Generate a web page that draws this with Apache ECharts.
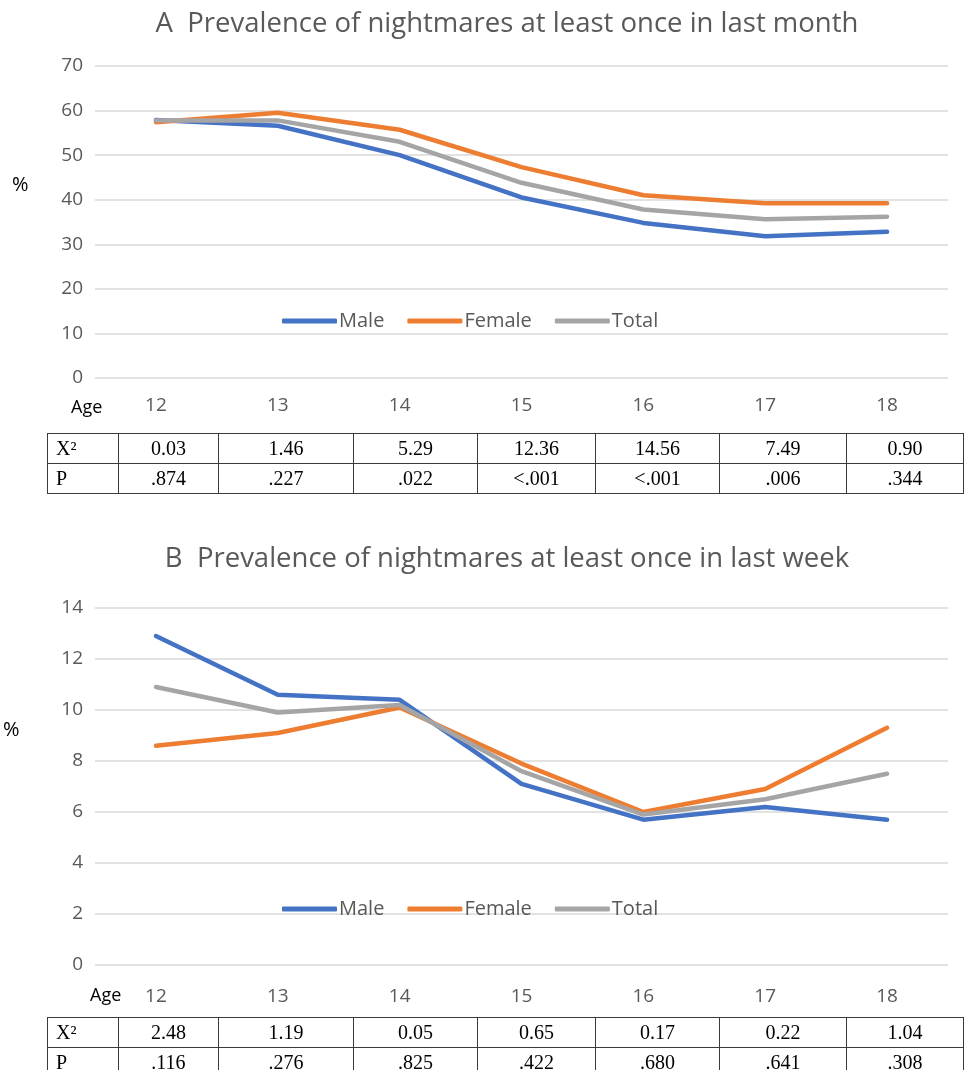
<!DOCTYPE html>
<html><head><meta charset="utf-8">
<script src="https://cdn.jsdelivr.net/npm/echarts@6/dist/echarts.min.js"></script>
<style>
html,body{margin:0;padding:0;background:#fff;}
#chart{position:absolute;left:0;top:0;width:964px;height:1070px;}
table.stats{position:absolute;left:47px;border-collapse:collapse;font-family:"Liberation Serif","Times New Roman",serif;font-size:20px;color:#000;table-layout:fixed;}
table.stats td{border:1px solid #3a3a3a;text-align:center;padding:0;height:29px;line-height:29px;white-space:nowrap;}
table.stats td.h{text-align:left;padding-left:8px;}
</style></head><body>
<div id="chart"></div>
<div id="tables"></div>
<script>
// ---- data ----
const ages = ['12', '13', '14', '15', '16', '17', '18'];
const monthMale   = [57.9, 56.6, 50.0, 40.5, 34.8, 31.8, 32.8];
const monthFemale = [57.4, 59.5, 55.7, 47.3, 41.0, 39.2, 39.2];
const monthTotal  = [57.8, 57.8, 53.0, 43.8, 37.8, 35.6, 36.2];
const weekMale    = [12.9, 10.6, 10.4, 7.1, 5.7, 6.2, 5.7];
const weekFemale  = [8.6, 9.1, 10.1, 7.9, 6.0, 6.9, 9.3];
const weekTotal   = [10.9, 9.9, 10.2, 7.6, 5.9, 6.5, 7.5];
const monthChi = ['0.03', '1.46', '5.29', '12.36', '14.56', '7.49', '0.90'];
const monthP   = ['.874', '.227', '.022', '<.001', '<.001', '.006', '.344'];
const weekChi  = ['2.48', '1.19', '0.05', '0.65', '0.17', '0.22', '1.04'];
const weekP    = ['.116', '.276', '.825', '.422', '.680', '.641', '.308'];
const seriesNames = ['Male', 'Female', 'Total'];
const titleA = 'A  Prevalence of nightmares at least once in last month';
const titleB = 'B  Prevalence of nightmares at least once in last week';

// ---- tables ----
const colWidths = [71, 100, 135, 124, 118, 124, 127, 117];
function buildTable(top, chi, p) {
  const t = document.createElement('table');
  t.className = 'stats';
  t.style.top = top + 'px';
  const cg = document.createElement('colgroup');
  colWidths.forEach(w => { const c = document.createElement('col'); c.style.width = w + 'px'; cg.appendChild(c); });
  t.appendChild(cg);
  [['X\u00B2', chi], ['P', p]].forEach(([h, vals]) => {
    const tr = document.createElement('tr');
    const th = document.createElement('td'); th.className = 'h'; th.textContent = h; tr.appendChild(th);
    vals.forEach(v => { const td = document.createElement('td'); td.textContent = v; tr.appendChild(td); });
    t.appendChild(tr);
  });
  document.getElementById('tables').appendChild(t);
}
buildTable(433, monthChi, monthP);
buildTable(1017, weekChi, weekP);

// ---- chart ----
const FONT = '"Open Sans", "Noto Sans", sans-serif';
const GREY = '#595959';
const colors = ['#4472C4', '#ED7D31', '#A5A5A5'];
const chart = echarts.init(document.getElementById('chart'), null, { renderer: 'canvas' });

function xAx(gi, margin) {
  return {
    type: 'category', gridIndex: gi, data: ages, boundaryGap: true,
    axisLine: { show: false }, axisTick: { show: false },
    axisLabel: { color: GREY, fontSize: 19, fontFamily: FONT, margin: margin }
  };
}
function yAx(gi, max, interval) {
  return {
    type: 'value', gridIndex: gi, min: 0, max: max, interval: interval,
    axisLine: { show: false }, axisTick: { show: false },
    axisLabel: { color: GREY, fontSize: 19, fontFamily: FONT, margin: 12 },
    splitLine: { lineStyle: { color: '#d9d9d9', width: 1.5 } }
  };
}
function legend(top) {
  return {
    data: seriesNames, left: 277, top: top, orient: 'horizontal',
    icon: 'roundRect', itemWidth: 55, itemHeight: 5, itemGap: 23,
    textStyle: { color: GREY, fontSize: 20, fontFamily: FONT, padding: [0, 0, 0, -3] }
  };
}
function line(name, data, idx, ci) {
  return {
    type: 'line', name: name, data: data, xAxisIndex: idx, yAxisIndex: idx,
    symbol: 'none', smooth: false, color: colors[ci],
    lineStyle: { width: 4.5, color: colors[ci], cap: 'round', join: 'round' }
  };
}

chart.setOption({
  animation: false,
  backgroundColor: '#fff',
  title: [
    { text: titleA, left: 502, top: 5, textAlign: 'center',
      textStyle: { color: GREY, fontSize: 27.5, fontWeight: 'normal', fontFamily: FONT } },
    { text: titleB, left: 502, top: 540, textAlign: 'center',
      textStyle: { color: GREY, fontSize: 27.5, fontWeight: 'normal', fontFamily: FONT } }
  ],
  grid: [
    { left: 95, right: 16, top: 66, height: 312 },
    { left: 95, right: 16, top: 608, height: 357 }
  ],
  xAxis: [xAx(0, 18), xAx(1, 22)],
  yAxis: [yAx(0, 70, 10), yAx(1, 14, 2)],
  legend: [legend(306), legend(894)],
  series: [
    line('Male', monthMale, 0, 0),
    line('Female', monthFemale, 0, 1),
    line('Total', monthTotal, 0, 2),
    line('Male', weekMale, 1, 0),
    line('Female', weekFemale, 1, 1),
    line('Total', weekTotal, 1, 2)
  ],
  graphic: [
    { type: 'text', left: 12, top: 175, style: { text: '%', fill: '#000', font: '20px ' + FONT } },
    { type: 'text', left: 3, top: 720, style: { text: '%', fill: '#000', font: '20px ' + FONT } },
    { type: 'text', left: 71, top: 399, style: { text: 'Age', fill: '#000', font: '18px ' + FONT } },
    { type: 'text', left: 90, top: 987, style: { text: 'Age', fill: '#000', font: '18px ' + FONT } }
  ]
});
</script>
</body></html>
